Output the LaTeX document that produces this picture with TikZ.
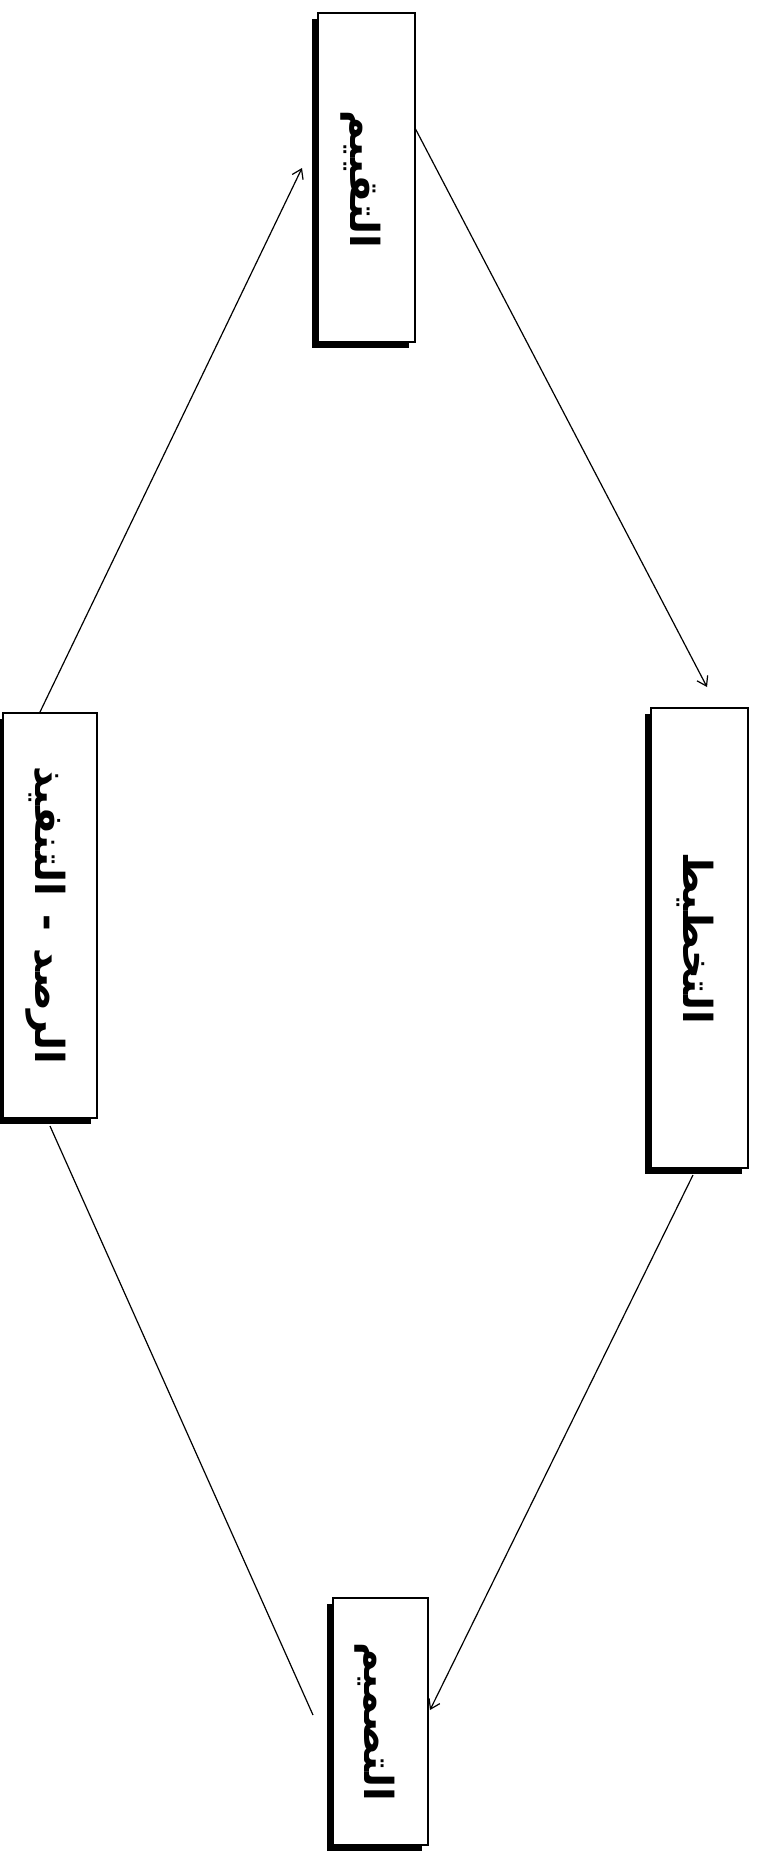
\documentclass[tikz,border=0pt]{standalone}
\usepackage{fontspec}
\newfontfamily\arabicfont[Script=Arabic]{DejaVu Sans}
\TeXXeTstate=1
\usetikzlibrary{arrows.meta,shadows}
\tikzset{
  stagebox/.style={draw=black, line width=1.4pt, fill=white, rectangle, inner sep=0pt,
    drop shadow={shadow xshift=-6pt, shadow yshift=-6pt, fill=black, opacity=1}},
  stagetext/.style={rotate=-90, font=\arabicfont\bfseries\fontsize{40}{46}\selectfont, inner sep=0pt},
  flow/.style={line width=1.2pt, -{Straight Barb[length=9pt, width=12pt, line width=1.2pt]}},
  plain/.style={line width=1.2pt}
}
\begin{document}
\begin{tikzpicture}[x=1pt, y=-1pt]
\useasboundingbox (0,0) rectangle (759,1855);
\node[stagebox, minimum width=97pt, minimum height=329pt] (eval) at (366.5,177.5) {};
\node[stagebox, minimum width=94pt, minimum height=405pt] (mon) at (50,915.5) {};
\node[stagebox, minimum width=97pt, minimum height=460pt] (plan) at (699.5,938) {};
\node[stagebox, minimum width=95pt, minimum height=247pt] (design) at (380.5,1721.5) {};
\node[stagetext] (evalt) at ([xshift=-6pt,yshift=-2pt]eval.center) {\beginR التقييم\endR};
\node[stagetext] (mont) at ([xshift=-4pt]mon.center) {\beginR الرصد\hspace{18pt}-\hspace{18pt}التنفيذ\endR};
\node[stagetext] (plant) at ([xshift=-4pt]plan.center) {\beginR التخطيط\endR};
\node[stagetext] (designt) at ([xshift=-6pt]design.center) {\beginR التصميم\endR};
\coordinate (a1s) at (40,712);
\coordinate (a1e) at (302,168);
\coordinate (a2s) at (415,128);
\coordinate (a2e) at (707,687);
\coordinate (a3s) at (693,1175);
\coordinate (a3e) at (430,1710);
\coordinate (a4s) at (313,1715);
\coordinate (a4e) at (50,1126);
\draw[flow] (a1s) -- (a1e);
\draw[flow] (a2s) -- (a2e);
\draw[flow] (a3s) -- (a3e);
\draw[plain] (a4s) -- (a4e);
\end{tikzpicture}
\end{document}
